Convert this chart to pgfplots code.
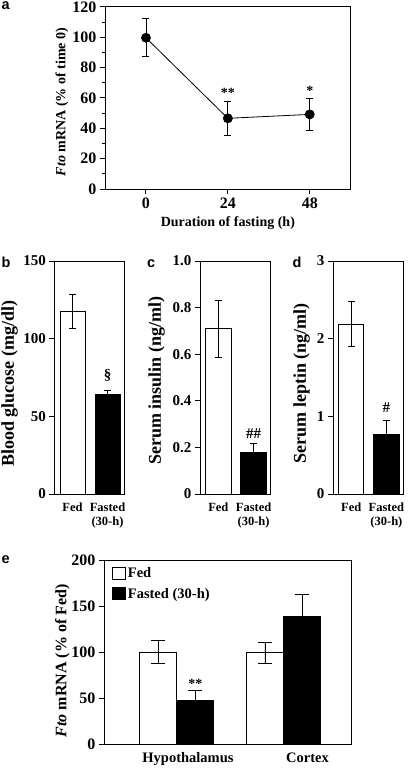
\documentclass[border=0pt]{standalone}
\usepackage{fontspec}
\setmainfont{Liberation Serif}
\newfontfamily\lettfont{Liberation Sans}
\usepackage{pgfplots}
\pgfplotsset{compat=1.18}
\newcommand\fsz[1]{\fontsize{#1}{#1}\selectfont\bfseries}
\pgfplotsset{
  panel/.style={
    scale only axis,
    axis line style={line width=1pt},
    every tick/.style={line width=1pt, black},
    tick align=outside,
    major tick length=5pt,
    minor tick length=3pt,
    ytick pos=left, xtick pos=bottom,
    /pgf/number format/assume math mode=true,
    tick label style={font=\fsz{15pt}},
    clip=false,
  },
  ebar/.style={error bars/.cd, y dir=both, y explicit,
    error bar style={line width=0.8pt, black},
    error mark options={rotate=90, mark size=3.5pt, line width=0.8pt, black}},
  ebarE/.style={error bars/.cd, y dir=both, y explicit,
    error bar style={line width=0.8pt, black},
    error mark options={rotate=90, mark size=7pt, line width=0.8pt, black}},
  sq/.style={legend image code/.code={\draw[line width=0.8pt,##1] (0pt,-6pt) rectangle (13pt,6pt);}},
}
\begin{document}
\begin{tikzpicture}
\useasboundingbox (0,0) rectangle (407pt,-770pt);
% ---------------- panel a
\begin{axis}[panel, at={(105pt,-189pt)}, anchor=south west,
  width=245.7pt, height=182pt,
  xmin=-12, xmax=60, ymin=0, ymax=120,
  xtick={0,24,48}, ytick={0,20,...,120}, minor ytick={10,30,...,110},
  tick label style={font=\fsz{16pt}},
  xlabel={Duration of fasting (h)},
  ylabel={\textit{Fto} mRNA (\% of time 0)},
  xlabel style={font=\fsz{14pt}, at={(axis description cs:0.5,-0.19)}, anchor=center},
  ylabel style={font=\fsz{14pt}, at={(axis description cs:-0.175,0.478)}, anchor=center, inner sep=0pt},
]
\addplot[black, line width=0.8pt, mark=*, mark size=4.5pt, ebar]
  coordinates {(0,99.7) +- (0,12.6) (24,46.6) +- (0,11.2) (48,49.2) +- (0,10.3)};
\node[font=\fsz{14pt}] at (axis cs:24,63.5) {**};
\node[font=\fsz{14pt}] at (axis cs:48,65) {*};
\end{axis}
% ---------------- panel b
\begin{axis}[panel, at={(54.3pt,-494pt)}, anchor=south west,
  width=70pt, height=233pt,
  xmin=-0.52, xmax=1.48, ymin=0, ymax=150,
  ytick={0,50,100,150}, xtick={0,1},
  xticklabels={Fed,{Fasted\\(30-h)}},
  xtick style={draw=none},
  xticklabel style={font=\fontsize{12.5pt}{14pt}\selectfont\bfseries, align=center},
  ylabel={Blood glucose (mg/dl)},
  ylabel style={font=\fsz{18pt}, at={(axis description cs:-0.64,0.474)}, anchor=center, inner sep=0pt},
]
\addplot[ybar, bar width=25pt, bar shift=0pt, fill=white, draw=black, line width=0.8pt, ebar]
  coordinates {(0,117.5) +- (0,11)};
\addplot[ybar, bar width=25pt, bar shift=0pt, fill=black, draw=black, line width=0.8pt, ebar]
  coordinates {(1,64.4) +- (0,2.4)};
\node[font=\fsz{15pt}] at (axis cs:1,76.2) {\S};
\end{axis}
% ---------------- panel c
\begin{axis}[panel, at={(200pt,-494pt)}, anchor=south west,
  width=70.5pt, height=233pt,
  xmin=-0.52, xmax=1.48, ymin=0, ymax=1,
  ytick={0,0.2,0.4,0.6,0.8,1.0}, yticklabels={0,0.2,0.4,0.6,0.8,1.0},
  xtick={0,1},
  xticklabels={Fed,{Fasted\\(30-h)}},
  xtick style={draw=none},
  xticklabel style={font=\fontsize{12.5pt}{14pt}\selectfont\bfseries, align=center},
  ylabel={Serum insulin (ng/ml)},
  ylabel style={font=\fsz{18pt}, at={(axis description cs:-0.614,0.486)}, anchor=center, inner sep=0pt},
]
\addplot[ybar, bar width=26pt, bar shift=0pt, fill=white, draw=black, line width=0.8pt, ebar]
  coordinates {(0,0.709) +- (0,0.121)};
\addplot[ybar, bar width=26pt, bar shift=0pt, fill=black, draw=black, line width=0.8pt, ebar]
  coordinates {(1,0.179) +- (0,0.04)};
\node[font=\fsz{15pt}] at (axis cs:1,0.26) {\#\#};
\end{axis}
% ---------------- panel d
\begin{axis}[panel, at={(333pt,-494pt)}, anchor=south west,
  width=70.3pt, height=233pt,
  xmin=-0.52, xmax=1.48, ymin=0, ymax=3,
  ytick={0,1,2,3},
  xtick={0,1},
  xticklabels={Fed,{Fasted\\(30-h)}},
  xtick style={draw=none},
  xticklabel style={font=\fontsize{12.5pt}{14pt}\selectfont\bfseries, align=center},
  ylabel={Serum leptin (ng/ml)},
  ylabel style={font=\fsz{18pt}, at={(axis description cs:-0.445,0.475)}, anchor=center, inner sep=0pt},
]
\addplot[ybar, bar width=25pt, bar shift=0pt, fill=white, draw=black, line width=0.8pt, ebar]
  coordinates {(0,2.19) +- (0,0.29)};
\addplot[ybar, bar width=26pt, bar shift=0pt, fill=black, draw=black, line width=0.8pt, ebar]
  coordinates {(1,0.764) +- (0,0.19)};
\node[font=\fsz{15pt}] at (axis cs:1,1.11) {\#};
\end{axis}
% ---------------- panel e
\begin{axis}[panel, at={(104pt,-744.3pt)}, anchor=south west,
  width=247pt, height=183.6pt,
  xmin=-0.685, xmax=1.634, ymin=0, ymax=200,
  ytick={0,50,...,200},
  tick label style={font=\fsz{16pt}},
  xtick={0.103,1.225}, xticklabels={Hypothalamus,Cortex},
  xtick style={draw=none},
  xticklabel style={font=\fsz{14.5pt}},
  ylabel={\textit{Fto} mRNA (\% of Fed)},
  ylabel style={font=\fsz{16pt}, at={(axis description cs:-0.168,0.454)}, anchor=center, inner sep=0pt},
  legend style={draw=none, fill=none, at={(axis description cs:0.032,0.975)}, anchor=north west,
    font=\fsz{14.5pt}, inner sep=0pt, row sep=5pt},
  legend cell align=left,
]
\addplot[ybar, bar width=37pt, bar shift=0pt, fill=white, draw=black, line width=0.8pt, sq, ebarE]
  coordinates {(-0.176,100.5) +- (0,12.5) (0.826,100) +- (0,11.4)};
\addlegendentry{Fed}
\addplot[ybar, bar width=37pt, bar shift=0pt, fill=black, draw=black, line width=0.8pt, sq, ebarE]
  coordinates {(0.172,47.9) +- (0,10.9) (1.174,138.9) +- (0,24.8)};
\addlegendentry{Fasted (30-h)}
\node[font=\fsz{14pt}] at (axis cs:0.172,66) {**};
\end{axis}
% ---------------- panel letters
\node[anchor=base west, inner sep=0pt, font=\lettfont\fontsize{14.5pt}{14.5pt}\selectfont\bfseries] at (1.5pt,-10pt) {a};
\node[anchor=base west, inner sep=0pt, font=\lettfont\fontsize{14.5pt}{14.5pt}\selectfont\bfseries] at (1.5pt,-267pt) {b};
\node[anchor=base west, inner sep=0pt, font=\lettfont\fontsize{14.5pt}{14.5pt}\selectfont\bfseries] at (147pt,-267pt) {c};
\node[anchor=base west, inner sep=0pt, font=\lettfont\fontsize{14.5pt}{14.5pt}\selectfont\bfseries] at (292.5pt,-267pt) {d};
\node[anchor=base west, inner sep=0pt, font=\lettfont\fontsize{14.5pt}{14.5pt}\selectfont\bfseries] at (1.5pt,-563pt) {e};
\end{tikzpicture}
\end{document}
